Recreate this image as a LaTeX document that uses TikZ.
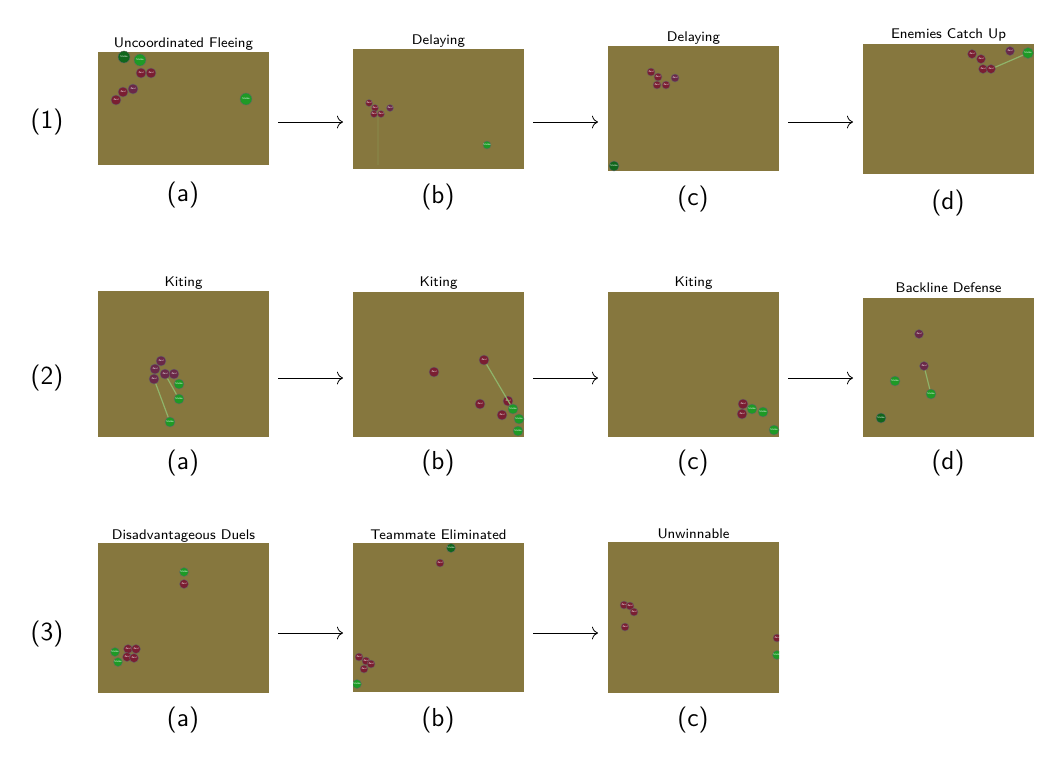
\documentclass[tikz,border=0pt]{standalone}
\usetikzlibrary{arrows.meta}
\begin{document}
\sffamily
\definecolor{field}{HTML}{86773E}
\definecolor{zeal}{HTML}{7A1E32}
\definecolor{zealp}{HTML}{6A2848}
\definecolor{stalk}{HTML}{1E9A26}
\definecolor{stalkd}{HTML}{10661C}
\definecolor{link}{HTML}{8FB46A}
\begin{tikzpicture}[x=0.5pt,y=-0.5pt,
  ttl/.style={font=\fontsize{7}{8}\selectfont,anchor=base},
  lab/.style={font=\fontsize{13}{15}\selectfont},
  unit/.style={circle,draw=black!60,line width=0.2pt,minimum size=5pt,inner sep=0pt,font=\fontsize{1.3}{1.5}\selectfont,text=white},
  zl/.style={unit,fill=zeal},
  zlp/.style={unit,fill=zealp},
  st/.style={unit,fill=stalk},
  std/.style={unit,fill=stalkd},
  ln/.style={draw=link,line width=0.6pt},
  arr/.style={-{To[length=3pt]},line width=0.4pt}]
\useasboundingbox (0,0) rectangle (1062,767);
\newcommand{\pnl}[6]{\fill[field] (#1,#2) rectangle (#3,#4); \node[ttl] at ({(#1+#3)/2},#5) {#6};}
\pnl{98}{52}{269}{165}{47}{Uncoordinated Fleeing}
\pnl{353}{49}{524}{169}{44}{Delaying}
\pnl{608}{46}{779}{171}{41}{Delaying}
\pnl{863}{44}{1034}{174}{38}{Enemies Catch Up}
\pnl{98}{291}{269}{437}{286}{Kiting}
\pnl{353}{292}{524}{437}{286}{Kiting}
\pnl{608}{292}{779}{437}{286}{Kiting}
\pnl{863}{298}{1034}{437}{292}{Backline Defense}
\pnl{98}{543}{269}{693}{539}{Disadvantageous Duels}
\pnl{353}{543}{524}{692}{539}{Teammate Eliminated}
\pnl{608}{542}{779}{693}{538}{Unwinnable}
\node[lab] (r1) at (47,122) {(1)};
\node[lab] (r2) at (47,378) {(2)};
\node[lab] (r3) at (47,634) {(3)};
\foreach \x/\y/\t [count=\i] in {183/195/a,438/197/b,693/199/c,948/203/d,183/463/a,438/463/b,693/463/c,948/463/d,183/720/a,438/720/b,693/720/c}
  \node[lab] (sl\i) at (\x,\y) {(\t)};
\foreach \y [count=\r] in {122,378,633}{
  \foreach \x [count=\c] in {278,533,788}{
    \coordinate (as\r\c) at (\x,\y); \coordinate (ae\r\c) at (\x+65,\y);
  }}
\foreach \r/\c in {1/1,1/2,1/3,2/1,2/2,2/3,3/1,3/2} \draw[arr] (as\r\c) -- (ae\r\c);
% ---- row 1 ----
\node[std,minimum size=6pt] (a1) at (124,57) {Stalke};
\node[st,minimum size=6pt] (a2) at (140,60) {Stalke};
\node[zl] (a3) at (141,73) {Zeal};
\node[zl] (a4) at (151,73) {Zeal};
\node[zlp] (a5) at (133,89) {Zeal};
\node[zl] (a6) at (123,92) {Zeal};
\node[zl] (a7) at (116,100) {Zeal};
\node[st,minimum size=6pt] (a8) at (246,99) {Stalke};
\draw[ln,draw opacity=0.15] (378,116) -- (378,165);
\node[zl,minimum size=3.5pt] (b1) at (369,103) {Zeal};
\node[zl,minimum size=3.5pt] (b2) at (375,108) {Zeal};
\node[zl,minimum size=3.5pt] (b3) at (374,114) {Zeal};
\node[zl,minimum size=3.5pt] (b4) at (381,114) {Zeal};
\node[zlp,minimum size=3.5pt] (b5) at (390,108) {Zeal};
\node[st,minimum size=4pt] (b6) at (487,145) {Stalke};
\node[zl,minimum size=4pt] (c1) at (651,72) {Zeal};
\node[zl,minimum size=4pt] (c2) at (658,77) {Zeal};
\node[zl,minimum size=4pt] (c3) at (657,85) {Zeal};
\node[zl,minimum size=4pt] (c4) at (666,85) {Zeal};
\node[zlp,minimum size=4pt] (c5) at (675,78) {Zeal};
\begin{scope}
\clip (608,46) rectangle (779,171);
\node[std] (c6) at (614,166) {Stalke};
\end{scope}
\node[zl,minimum size=4.5pt] (d1) at (972,54) {Zeal};
\node[zl,minimum size=4.5pt] (d2) at (981,59) {Zeal};
\node[zl,minimum size=4.5pt] (d3) at (983,69) {Zeal};
\node[zl,minimum size=4.5pt] (d4) at (991,69) {Zeal};
\node[zlp,minimum size=4.5pt] (d5) at (1010,51) {Zeal};
\node[st,minimum size=5.5pt] (d6) at (1028,53) {Stalke};
\draw[ln] (d4) -- (d6);
% ---- row 2 ----
\node[zlp] (e1) at (161,361) {Zeal};
\node[zlp] (e2) at (155,369) {Zeal};
\node[zlp] (e3) at (165,374) {Zeal};
\node[zlp] (e4) at (174,374) {Zeal};
\node[zlp] (e5) at (154,379) {Zeal};
\node[st] (e6) at (179,384) {Stalke};
\node[st] (e7) at (179,399) {Stalke};
\node[st] (e8) at (170,422) {Stalke};
\draw[ln] (e5) -- (e8);
\draw[ln] (e3) -- (e7);
\begin{scope}
\clip (353,292) rectangle (524,437);
\node[zl] (f1) at (434,372) {Zeal};
\node[zl] (f2) at (484,360) {Zeal};
\node[zl] (f3) at (480,404) {Zeal};
\node[zl] (f4) at (508,401) {Zeal};
\node[zl] (f5) at (502,415) {Zeal};
\node[st] (f6) at (513,409) {Stalke};
\node[st] (f7) at (519,419) {Stalke};
\node[st] (f8) at (518,431) {Stalke};
\draw[ln] (f2) -- (f6);
\end{scope}
\begin{scope}
\clip (608,292) rectangle (779,437);
\node[zl] (g1) at (743,404) {Zeal};
\node[zl] (g2) at (742,414) {Zeal};
\node[st] (g3) at (752,409) {Stalke};
\node[st] (g4) at (763,412) {Stalke};
\node[st] (g5) at (774,430) {Stalke};
\end{scope}
\node[zlp,minimum size=4.5pt] (h1) at (919,334) {Zeal};
\node[zlp,minimum size=4.5pt] (h2) at (924,366) {Zeal};
\node[st] (h3) at (895,381) {Stalke};
\node[st] (h4) at (931,394) {Stalke};
\node[std] (h5) at (881,418) {Stalke};
\draw[ln] (h2) -- (h4);
% ---- row 3 ----
\node[st,minimum size=4.5pt] (i1) at (184,572) {Stalke};
\node[zl,minimum size=4.5pt] (i2) at (184,584) {Zeal};
\node[st,minimum size=4.5pt] (i3) at (115,652) {Stalke};
\node[st,minimum size=4.5pt] (i4) at (118,662) {Stalke};
\node[zl,minimum size=4.5pt] (i5) at (128,649) {Zeal};
\node[zl,minimum size=4.5pt] (i6) at (136,649) {Zeal};
\node[zl,minimum size=4.5pt] (i7) at (127,657) {Zeal};
\node[zl,minimum size=4.5pt] (i8) at (134,658) {Zeal};
\begin{scope}
\clip (353,543) rectangle (524,692);
\node[std,minimum size=4.5pt] (j1) at (451,548) {Stalke};
\node[zl,minimum size=4pt] (j2) at (440,563) {Zeal};
\node[zl,minimum size=4pt] (j3) at (359,657) {Zeal};
\node[zl,minimum size=4pt] (j4) at (366,661) {Zeal};
\node[zl,minimum size=4pt] (j5) at (371,664) {Zeal};
\node[zl,minimum size=4pt] (j6) at (364,669) {Zeal};
\node[st,minimum size=4.5pt] (j7) at (357,684) {Stalke};
\end{scope}
\begin{scope}
\clip (608,542) rectangle (779,693);
\node[zl,minimum size=4pt] (k1) at (624,605) {Zeal};
\node[zl,minimum size=4pt] (k2) at (630,606) {Zeal};
\node[zl,minimum size=4pt] (k3) at (634,612) {Zeal};
\node[zl,minimum size=4pt] (k4) at (625,627) {Zeal};
\node[zl,minimum size=4pt] (k5) at (777,638) {Zeal};
\node[st,minimum size=4.5pt] (k6) at (777,655) {Stalke};
\end{scope}
\end{tikzpicture}
\end{document}
